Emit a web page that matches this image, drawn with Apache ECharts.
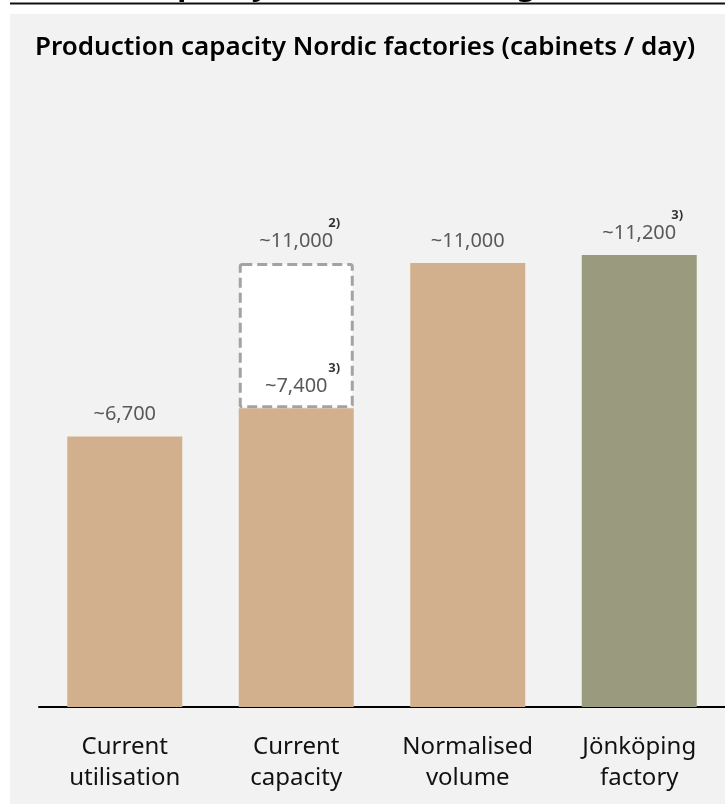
<!DOCTYPE html>
<html>
<head>
<meta charset="utf-8">
<script src="https://cdn.jsdelivr.net/npm/echarts@6/dist/echarts.min.js"></script>
<style>
  html, body { margin: 0; padding: 0; background: #ffffff; }
  #chart { width: 725px; height: 804px; }
</style>
</head>
<body>
<div id="chart"></div>
<script>
// Production capacity of the Nordic factories, cabinets per day
const categories = ['Current\nutilisation', 'Current\ncapacity', 'Normalised\nvolume', 'Jönköping\nfactory'];
const baseValues = [6700, 7400, 11000, 11200];
// Upper end of the current capacity range (drawn as a dashed box above the base bar)
const capacityRangeTop = [null, 11000, null, null];
// Footnote markers: [category index, value, marker]
const footnotes = [
  [1, 11000, '2)'],
  [1, 7400, '3)'],
  [3, 11200, '3)']
];
const barColors = ['#d3b08d', '#d3b08d', '#d3b08d', '#9a9a7e'];

const FONT = '"Noto Sans", "Open Sans", sans-serif';
const fmt = v => '~' + Number(v).toLocaleString('en-US');

const rangeExtra = capacityRangeTop.map((t, i) => (t == null ? null : t - baseValues[i]));

const chart = echarts.init(document.getElementById('chart'), null, { renderer: 'canvas' });

chart.setOption({
  backgroundColor: '#ffffff',
  animation: false,
  textStyle: { fontFamily: FONT },
  graphic: [
    { type: 'rect', z: -10, shape: { x: 10, y: 14, width: 715, height: 790 }, style: { fill: '#f2f2f2' } },
    {
      type: 'text', z: -6, x: 140, y: 1.5, silent: true,
      style: { text: 'Capacity enables further growth', fill: '#000000', font: 'bold 30px ' + FONT, verticalAlign: 'bottom' }
    },
    { type: 'rect', z: -5, shape: { x: 10, y: 2.5, width: 715, height: 2 }, style: { fill: '#111111' } },
    {
      type: 'text', x: 35, y: 48,
      style: {
        text: 'Production capacity Nordic factories (cabinets / day)',
        fill: '#000000', font: '600 26px ' + FONT, verticalAlign: 'middle'
      }
    }
  ],
  grid: { left: 39, right: 0, top: 142, bottom: 97, containLabel: false },
  xAxis: {
    type: 'category',
    data: categories,
    axisLine: { show: true, lineStyle: { color: '#000000', width: 2 } },
    axisTick: { show: false },
    axisLabel: { color: '#111111', fontSize: 24, lineHeight: 31, margin: 25, fontFamily: FONT, interval: 0 }
  },
  yAxis: { type: 'value', min: 0, max: 14000, show: false, splitLine: { show: false } },
  series: [
    {
      type: 'bar',
      stack: 'cap',
      barWidth: 115,
      data: baseValues.map((v, i) => ({ value: v, itemStyle: { color: barColors[i] } })),
      label: {
        show: true, position: 'top', distance: 12,
        color: '#595959', fontSize: 20, fontFamily: FONT,
        formatter: p => fmt(p.value)
      },
      z: 3
    },
    {
      type: 'bar',
      stack: 'cap',
      barWidth: 115,
      data: rangeExtra,
      itemStyle: { color: '#ffffff', borderColor: '#a3a3a3', borderWidth: 3, borderType: [10, 5], borderRadius: 2 },
      label: {
        show: true, position: 'top', distance: 12,
        color: '#595959', fontSize: 20, fontFamily: FONT,
        formatter: p => fmt(capacityRangeTop[p.dataIndex])
      },
      z: 2
    },
    {
      type: 'scatter',
      symbolSize: 0,
      data: footnotes.map(f => ({ value: [f[0], f[1]], note: f[2] })),
      label: {
        show: true, position: 'inside', offset: [38, -40],
        color: '#000000', fontSize: 13, fontWeight: 'bold', fontFamily: FONT,
        formatter: p => p.data.note
      },
      z: 5
    }
  ]
});
</script>
</body>
</html>
